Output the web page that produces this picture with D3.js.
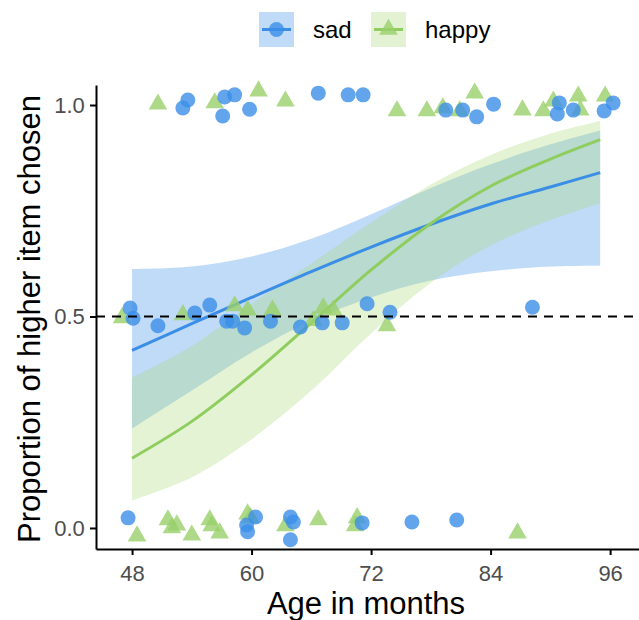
<!DOCTYPE html>
<html>
<head>
<meta charset="utf-8">
<script src="https://cdn.jsdelivr.net/npm/d3@7"></script>
<style>
  body { margin: 0; background: #fff; }
  svg { display: block; font-family: "Liberation Sans", Arial, sans-serif; }
</style>
</head>
<body>
<div id="chart"></div>
<script>
// jittered responses: [age in months, proportion]
const sadPoints = [
  [47.6, 0.024], [59.5, 0.007], [59.6, -0.009], [60.4, 0.026], [63.9, 0.026], [64.2, 0.014],
  [63.9, -0.028], [71.1, 0.012], [76.1, 0.014], [80.6, 0.019],
  [47.8, 0.52], [48.1, 0.496], [50.6, 0.478], [54.3, 0.508], [55.8, 0.527], [57.5, 0.489],
  [58.1, 0.489], [59.3, 0.473], [61.9, 0.489], [64.9, 0.475], [67.1, 0.485], [69.1, 0.485],
  [71.6, 0.53], [73.9, 0.51], [88.2, 0.522],
  [53.6, 1.012], [53.1, 0.993], [57.1, 0.974], [57.3, 1.019], [58.3, 1.024], [59.8, 0.99],
  [66.7, 1.028], [69.7, 1.024], [71.2, 1.024], [79.5, 0.988], [81.2, 0.988], [82.6, 0.972],
  [84.3, 1.002], [90.9, 1.005], [90.7, 0.979], [92.3, 0.988], [96.3, 1.005], [95.4, 0.986]
];
const happyPoints = [
  [48.5, -0.019], [51.6, 0.019], [52.5, 0.007], [52.0, 0.0], [54.0, -0.017], [55.8, 0.019],
  [56.0, 0.005], [56.8, -0.012], [59.6, 0.033], [59.9, 0.024], [63.4, 0.005], [66.7, 0.019],
  [70.6, 0.024], [70.4, 0.005], [86.7, -0.012],
  [47.0, 0.497], [53.1, 0.504], [58.3, 0.525], [59.6, 0.515], [62.1, 0.515], [66.2, 0.49],
  [67.2, 0.52], [68.2, 0.515], [73.6, 0.478],
  [50.6, 1.002], [56.3, 1.005], [60.7, 1.033], [63.4, 1.009], [74.6, 0.986], [77.6, 0.986],
  [79.2, 0.993], [80.9, 0.986], [82.4, 1.028], [87.2, 0.988], [89.3, 0.986], [90.3, 1.009],
  [92.8, 1.021], [93.0, 0.988], [95.5, 1.021]
];

// fitted curves and confidence bands, read at these ages
const fitAges = [48, 54, 60, 66, 72, 78, 84, 90, 95];
const sadFit = [0.42, 0.483, 0.545, 0.606, 0.664, 0.718, 0.766, 0.806, 0.84];
const sadLow = [0.235, 0.325, 0.415, 0.49, 0.545, 0.585, 0.607, 0.618, 0.62];
const sadHigh = [0.612, 0.618, 0.642, 0.684, 0.742, 0.804, 0.86, 0.907, 0.94];
const happyFit = [0.165, 0.252, 0.362, 0.485, 0.61, 0.72, 0.808, 0.872, 0.918];
const happyLow = [0.065, 0.12, 0.21, 0.325, 0.46, 0.58, 0.668, 0.728, 0.768];
const happyHigh = [0.355, 0.43, 0.53, 0.625, 0.722, 0.812, 0.882, 0.932, 0.962];

const xTicks = [48, 60, 72, 84, 96];
const yTicks = [0, 0.5, 1];
const groups = ["sad", "happy"];

const width = 639, height = 620;
const panel = { left: 96, right: 639, top: 85, bottom: 549 };

const svg = d3.select("#chart").append("svg").attr("width", width).attr("height", height);

const x = d3.scaleLinear().domain([44.38, 98.9]).range([panel.left, panel.right]);
const y = d3.scaleLinear().domain([-0.0497, 1.0473]).range([panel.bottom, panel.top]);

const colors = {
  sad: { point: "#3b8fe8", line: "#3a8ee6", ribbon: "#3b8fe8" },
  happy: { point: "#98d06a", line: "#8fcd5f", ribbon: "#a6d872" }
};

// ribbons
const area = d3.area()
  .x((d) => x(d.age))
  .y0((d) => y(d.lo))
  .y1((d) => y(d.hi))
  .curve(d3.curveCatmullRom);
const line = d3.line()
  .x((d) => x(d.age))
  .y((d) => y(d.fit))
  .curve(d3.curveCatmullRom);

const bands = {
  sad: fitAges.map((a, i) => ({ age: a, fit: sadFit[i], lo: sadLow[i], hi: sadHigh[i] })),
  happy: fitAges.map((a, i) => ({ age: a, fit: happyFit[i], lo: happyLow[i], hi: happyHigh[i] }))
};

groups.forEach((g) => {
  svg.append("path")
    .datum(bands[g])
    .attr("fill", colors[g].ribbon)
    .attr("fill-opacity", g === "sad" ? 0.32 : 0.3)
    .attr("d", area);
});
groups.forEach((g) => {
  svg.append("path")
    .datum(bands[g])
    .attr("fill", "none")
    .attr("stroke", colors[g].line)
    .attr("stroke-width", 3)
    .attr("d", line);
});

// points
const tri = d3.symbol().type(d3.symbolTriangle).size(150);
svg.append("g")
  .selectAll("path")
  .data(happyPoints)
  .enter()
  .append("path")
  .attr("d", tri)
  .attr("transform", (d) => `translate(${x(d[0])},${y(d[1])})`)
  .attr("fill", colors.happy.point)
  .attr("fill-opacity", 0.8);
svg.append("g")
  .selectAll("circle")
  .data(sadPoints)
  .enter()
  .append("circle")
  .attr("cx", (d) => x(d[0]))
  .attr("cy", (d) => y(d[1]))
  .attr("r", 7.5)
  .attr("fill", colors.sad.point)
  .attr("fill-opacity", 0.8);

// reference line at chance
svg.append("line")
  .attr("x1", panel.left).attr("x2", panel.right)
  .attr("y1", y(0.5)).attr("y2", y(0.5))
  .attr("stroke", "#000")
  .attr("stroke-width", 2)
  .attr("stroke-dasharray", "9,7");

// axes
const xAxis = d3.axisBottom(x).tickValues(xTicks).tickSize(6).tickSizeOuter(0);
const yAxis = d3.axisLeft(y).tickValues(yTicks).tickSize(6).tickSizeOuter(0).tickFormat(d3.format(".1f"));

const gx = svg.append("g").attr("transform", `translate(0,${panel.bottom})`).call(xAxis);
const gy = svg.append("g").attr("transform", `translate(${panel.left},0)`).call(yAxis);
[gx, gy].forEach((g) => {
  g.select(".domain").attr("stroke", "#000").attr("stroke-width", 2);
  g.selectAll(".tick line").attr("stroke", "#000").attr("stroke-width", 2);
  g.selectAll(".tick text").attr("fill", "#4d4d4d").style("font-size", "22px")
    .style("font-family", "Liberation Sans, Arial, sans-serif");
});
gx.selectAll(".tick text").attr("dy", "1.05em");
gy.selectAll(".tick text").attr("dx", "-0.1em");

svg.append("text")
  .attr("x", 366)
  .attr("y", 614)
  .attr("text-anchor", "middle")
  .style("font-size", "31px")
  .text("Age in months");
svg.append("text")
  .attr("transform", `translate(40,${(panel.top + panel.bottom) / 2 + 2}) rotate(-90)`)
  .attr("text-anchor", "middle")
  .style("font-size", "31px")
  .text("Proportion of higher item chosen");

// legend
const legend = svg.append("g").attr("transform", "translate(259,12)");
groups.forEach((g, i) => {
  const k = legend.append("g").attr("transform", `translate(${i === 0 ? 0 : 112},0)`);
  k.append("rect").attr("width", 35).attr("height", 35)
    .attr("fill", colors[g].ribbon).attr("fill-opacity", 0.32);
  k.append("line").attr("x1", 3).attr("x2", 32).attr("y1", 17.5).attr("y2", 17.5)
    .attr("stroke", colors[g].line).attr("stroke-width", 3);
  if (g === "sad") {
    k.append("circle").attr("cx", 17.5).attr("cy", 17.5).attr("r", 7.5)
      .attr("fill", colors.sad.point).attr("fill-opacity", 0.8);
  } else {
    k.append("path").attr("d", tri).attr("transform", "translate(17.5,17.5)")
      .attr("fill", colors.happy.point).attr("fill-opacity", 0.8);
  }
  k.append("text").attr("x", 54).attr("y", 26).style("font-size", "24px").text(g);
});
</script>
</body>
</html>
